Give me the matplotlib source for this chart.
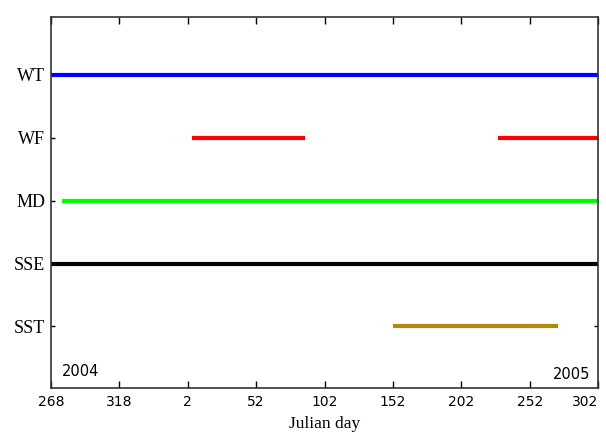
import matplotlib
matplotlib.use("Agg")
import matplotlib.pyplot as plt

# Observation periods per variable, given as (year, julian day) pairs
series = ["WT", "WF", "MD", "SSE", "SST"]
colors = ["#0000ff", "#ff0000", "#00ff00", "#000000", "#b8860b"]
segments = {
    "WT": [((2004, 268), (2005, 302))],
    "WF": [((2005, 5), (2005, 88)), ((2005, 229), (2005, 302))],
    "MD": [((2004, 276), (2005, 302))],
    "SSE": [((2004, 268), (2005, 302))],
    "SST": [((2005, 152), (2005, 273))],
}
tick_days = [(2004, 268), (2004, 318), (2005, 2), (2005, 52), (2005, 102),
             (2005, 152), (2005, 202), (2005, 252), (2005, 302)]

START = (2004, 268)
DAYS_2004 = 366


def to_x(yd):
    year, day = yd
    return day + (DAYS_2004 if year == 2005 else 0) - START[1]


fig = plt.figure(figsize=(6.06, 4.37), dpi=100)
ax = fig.add_axes([0.0842, 0.1121, 0.9026, 0.849])

n = len(series)
for i, (name, c) in enumerate(zip(series, colors)):
    yv = n - i
    for a, b in segments[name]:
        ax.plot([to_x(a), to_x(b)], [yv, yv], color=c, lw=3.0,
                solid_capstyle="butt")

ax.set_xlim(to_x(tick_days[0]), to_x(tick_days[-1]))
ax.set_ylim(0.02, 5.92)
ax.set_xticks([to_x(t) for t in tick_days])
ax.set_xticklabels([str(t[1]) for t in tick_days], fontsize=10,
                   family="DejaVu Sans")
# keep the last day label inside the canvas
ax.get_xticklabels()[-1].set_horizontalalignment("right")
ax.get_xticklabels()[-1].set_x(to_x(tick_days[-1]) + 6)
ax.set_yticks([n - i for i in range(n)])
ax.set_yticklabels(series, fontsize=13, family="Liberation Serif")
ax.tick_params(axis="x", direction="in", length=5, top=True, width=1,
               pad=5)
ax.tick_params(axis="y", direction="in", length=3, right=True, width=1,
               pad=4)
ax.set_xlabel("Julian day", fontsize=12.5, family="Liberation Serif",
              labelpad=5)
for s in ax.spines.values():
    s.set_linewidth(1.2)
    s.set_color("#333333")

ax.text(0.02, 0.025, "2004", transform=ax.transAxes, fontsize=10.5,
        family="DejaVu Sans", ha="left", va="bottom")
ax.text(0.985, 0.015, "2005", transform=ax.transAxes, fontsize=10.5,
        family="DejaVu Sans", ha="right", va="bottom")

fig.savefig("out.png", dpi=100)
